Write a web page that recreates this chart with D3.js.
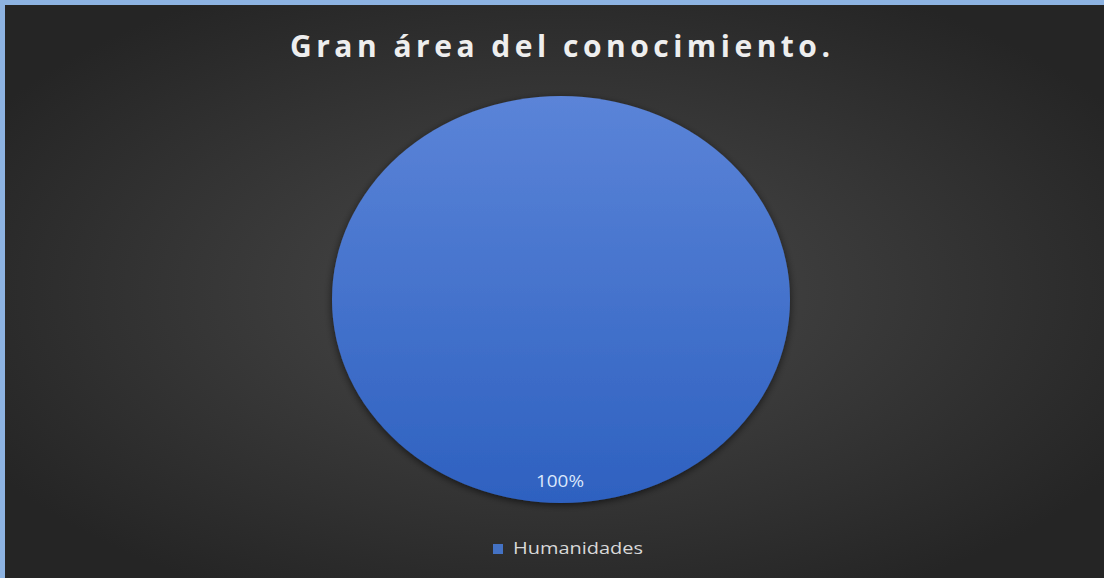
<!DOCTYPE html>
<html><head><meta charset="utf-8">
<script src="https://cdn.jsdelivr.net/npm/d3@7"></script>
<style>html,body{margin:0;padding:0;background:#8db3e2;}svg{display:block;}</style>
</head><body>
<script>
const title = "Gran área del conocimiento.";
const categories = ["Humanidades"];
const values = [100];

const W = 1104, H = 578;
const svg = d3.select("body").append("svg").attr("width", W).attr("height", H);
const defs = svg.append("defs");

const bg = defs.append("radialGradient").attr("id","bg").attr("cx","50%").attr("cy","50%").attr("r","60%");
bg.append("stop").attr("offset","0%").attr("stop-color","#4a4a4a");
bg.append("stop").attr("offset","100%").attr("stop-color","#252525");

const pg = defs.append("linearGradient").attr("id","pg").attr("x1","0").attr("y1","0").attr("x2","0").attr("y2","1");
pg.append("stop").attr("offset","0%").attr("stop-color","#5b84d8");
pg.append("stop").attr("offset","100%").attr("stop-color","#2e61c0");

const sh = defs.append("filter").attr("id","sh").attr("x","-20%").attr("y","-20%").attr("width","140%").attr("height","140%");
sh.append("feGaussianBlur").attr("in","SourceAlpha").attr("stdDeviation",4);
sh.append("feOffset").attr("dx",0).attr("dy",2).attr("result","b");
sh.append("feComponentTransfer").append("feFuncA").attr("type","linear").attr("slope",0.6);
const m = sh.append("feMerge"); m.append("feMergeNode"); m.append("feMergeNode").attr("in","SourceGraphic");

svg.append("rect").attr("x",0).attr("y",0).attr("width",W).attr("height",H).attr("fill","#8db3e2");
svg.append("rect").attr("x",5).attr("y",5).attr("width",W-5).attr("height",H-5).attr("fill","url(#bg)");

svg.append("text").attr("x",560).attr("y",57).attr("text-anchor","middle")
  .attr("font-family","'Open Sans', sans-serif").attr("font-weight","bold").attr("font-size",30)
  .attr("fill","#eeeeee").attr("textLength",540).attr("lengthAdjust","spacing").text(title);

const cx = 561, cy = 299.5, rx = 229, ry = 203.5;
const color = d3.scaleOrdinal().domain(categories).range(["url(#pg)"]);
const pie = d3.pie().sort(null).value(d => d.v);
const data = categories.map((c,i)=>({c, v: values[i]}));
const arcs = pie(data);
const arc = d3.arc().innerRadius(0).outerRadius(rx);
const g = svg.append("g").attr("transform",`translate(${cx},${cy}) scale(1,${ry/rx})`);
g.selectAll("path").data(arcs).join("path").attr("d",arc).attr("fill",d=>color(d.data.c))
  .attr("filter","url(#sh)");

const total = d3.sum(values);
svg.selectAll("text.lbl").data(arcs).join("text").attr("class","lbl")
  .attr("x", 560).attr("y", 487)
  .attr("text-anchor","middle").attr("font-family","'Open Sans', sans-serif").attr("font-size",17)
  .attr("fill","#dce8fb").attr("textLength",48).attr("lengthAdjust","spacingAndGlyphs")
  .text(d => Math.round(d.data.v/total*100) + "%");

const leg = svg.append("g").attr("transform","translate(493,544)");
leg.selectAll("rect").data(categories).join("rect").attr("x",0).attr("y",0).attr("width",10).attr("height",10).attr("fill","#4472c4");
leg.selectAll("text").data(categories).join("text").attr("x",20).attr("y",10)
  .attr("font-family","'Open Sans', sans-serif").attr("font-size",16).attr("fill","#d9d9d9")
  .attr("textLength",130).attr("lengthAdjust","spacingAndGlyphs").text(d=>d);
</script>
</body></html>
